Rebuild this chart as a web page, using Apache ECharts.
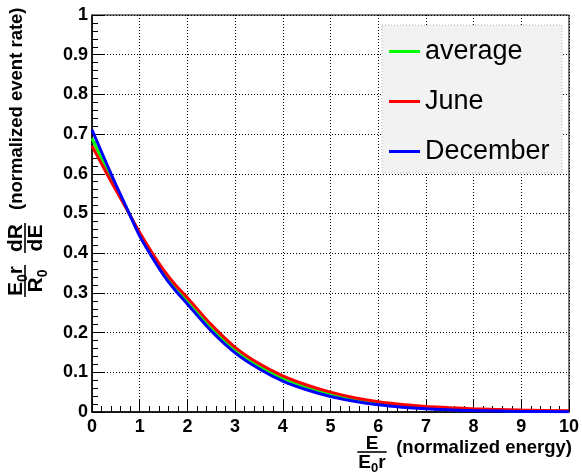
<!DOCTYPE html>
<html>
<head>
<meta charset="utf-8">
<script src="https://cdn.jsdelivr.net/npm/echarts@6/dist/echarts.min.js"></script>
<style>
  html, body { margin: 0; padding: 0; background: #fff; }
  #chart { width: 582px; height: 475px; }
</style>
</head>
<body>
<div id="chart"></div>
<script>
// Normalized recoil energy E/(E0 r) and the normalized event rate for each season
const energy   = [0, 0.25, 0.5, 0.75, 1, 1.25, 1.5, 1.75, 2, 2.5, 3, 3.5, 4, 4.5, 5, 5.5, 6, 6.5, 7, 7.5, 8, 9, 10];
const average  = [0.689, 0.627, 0.566, 0.507, 0.448, 0.397, 0.351, 0.313, 0.280, 0.212, 0.156, 0.116, 0.085, 0.062, 0.045, 0.032, 0.022, 0.016, 0.011, 0.008, 0.0055, 0.0025, 0.001];
const june     = [0.670, 0.614, 0.559, 0.506, 0.452, 0.403, 0.358, 0.320, 0.288, 0.220, 0.163, 0.122, 0.091, 0.068, 0.050, 0.036, 0.026, 0.019, 0.014, 0.011, 0.008, 0.005, 0.003];
const december = [0.711, 0.641, 0.573, 0.508, 0.443, 0.392, 0.345, 0.306, 0.272, 0.204, 0.149, 0.109, 0.078, 0.056, 0.039, 0.027, 0.018, 0.012, 0.008, 0.0055, 0.0035, 0.0015, 0.0005];
const seriesNames = ['average', 'June', 'December'];
const seriesColors = ['#00ff00', '#ff0000', '#0000ff'];
const xTitleText = '(normalized energy)';
const yTitleText = '(normalized event rate)';

const FONT = '"Liberation Sans", Arial, Helvetica, sans-serif';
const measureCtx = document.createElement('canvas').getContext('2d');
function textWidth(t, size) {
  measureCtx.font = 'bold ' + size + 'px ' + FONT;
  return measureCtx.measureText(t).width;
}
function pieceSize(p, size) { return p.sub ? Math.round(size * 0.68) : size; }
function runWidth(pieces, size) {
  return pieces.reduce((w, p) => w + textWidth(p.t, pieceSize(p, size)), 0);
}
function plainText(t, x, y, size, align) {
  return {
    type: 'text', x, y, silent: true,
    style: { text: t, font: 'bold ' + size + 'px ' + FONT, fill: '#000',
             align: align, verticalAlign: 'middle', textAlign: align, textVerticalAlign: 'middle' }
  };
}
// A run of bold text pieces, subscripts dropped below the line
function run(pieces, x, y, size) {
  const els = [];
  let cx = x;
  pieces.forEach(p => {
    const s = pieceSize(p, size);
    els.push(plainText(p.t, cx, y + (p.sub ? size * 0.32 : 0), s, 'left'));
    cx += textWidth(p.t, s);
  });
  return els;
}
// Stacked fraction centred on cx with its bar at barY
function fraction(num, den, cx, barY, size) {
  const wn = runWidth(num, size), wd = runWidth(den, size);
  const w = Math.max(wn, wd) + 2;
  const els = run(num, cx - wn / 2, barY - size * 0.42, size)
    .concat(run(den, cx - wd / 2, barY + size * 0.55, size));
  els.push({ type: 'line', silent: true, shape: { x1: cx - w / 2, y1: barY, x2: cx + w / 2, y2: barY },
             style: { stroke: '#000', lineWidth: 1.6 } });
  return els;
}

const E = { t: 'E' }, R = { t: 'R' }, r = { t: 'r' }, sub0 = { t: '0', sub: true };

// x-axis title: E / E0 r (normalized energy)
const xTitle = fraction([E], [E, sub0, r], 372, 452, 19)
  .concat([plainText(xTitleText, 572, 448, 18.5, 'right')]);

// y-axis title, laid out horizontally then turned to read bottom-to-top
const yTitle = fraction([E, sub0, r], [R, sub0], 19, 0, 21)
  .concat(fraction([{ t: 'dR' }], [{ t: 'dE' }], 62, 0, 21))
  .concat([plainText(yTitleText, 90, -8, 18.5, 'left')]);

const chart = echarts.init(document.getElementById('chart'), null, { renderer: 'canvas' });
const curves = [average, june, december];
const axisCommon = {
  axisLine: { onZero: false, lineStyle: { color: '#000', width: 1.5 } },
  axisTick: { inside: true, length: 12, lineStyle: { color: '#000', width: 1 } },
  minorTick: { show: true, splitNumber: 5, length: 6, lineStyle: { color: '#000', width: 1 } },
  splitLine: { show: true, lineStyle: { color: '#000', width: 1, type: [1, 2] } }
};

chart.setOption({
  backgroundColor: '#fff',
  animation: false,
  grid: { left: 92, right: 8, top: 15, bottom: 63, show: true, borderColor: '#000', borderWidth: 1, backgroundColor: 'transparent' },
  xAxis: Object.assign({
    type: 'value', min: 0, max: 10, interval: 1,
    axisLabel: { color: '#000', fontSize: 18, fontWeight: 'bold', fontFamily: FONT, margin: 6 }
  }, axisCommon),
  yAxis: Object.assign({
    type: 'value', min: 0, max: 1, interval: 0.1,
    axisLabel: { color: '#000', fontSize: 18, fontWeight: 'bold', fontFamily: FONT, margin: 4,
                 formatter: v => (v === 0 ? '0' : v === 1 ? '1' : v.toFixed(1)) }
  }, axisCommon),
  legend: {
    orient: 'vertical', left: 382, top: 25, selectedMode: false, z: 6,
    data: seriesNames,
    padding: [13, 8, 10, 7], itemGap: 23, itemWidth: 31, itemHeight: 3, icon: 'rect',
    textStyle: { color: '#000', fontSize: 27, fontFamily: FONT }
  },
  series: seriesNames.map((name, i) => ({
    name, type: 'line', smooth: 0.3, showSymbol: false, symbol: 'none',
    data: energy.map((x, j) => [x, curves[i][j]]),
    lineStyle: { color: seriesColors[i], width: 3 },
    itemStyle: { color: seriesColors[i] },
    z: 3 + i
  })),
  graphic: [
    { type: 'rect', z: 5, silent: true, shape: { x: 382, y: 25, width: 180, height: 148 },
      style: { fill: '#f2f2f2', stroke: '#b4b4b4', lineWidth: 1, lineDash: [1, 2] } },
    { type: 'group', children: xTitle },
    { type: 'group', x: 25, y: 300, rotation: Math.PI / 2, children: yTitle }
  ]
});
</script>
</body>
</html>
